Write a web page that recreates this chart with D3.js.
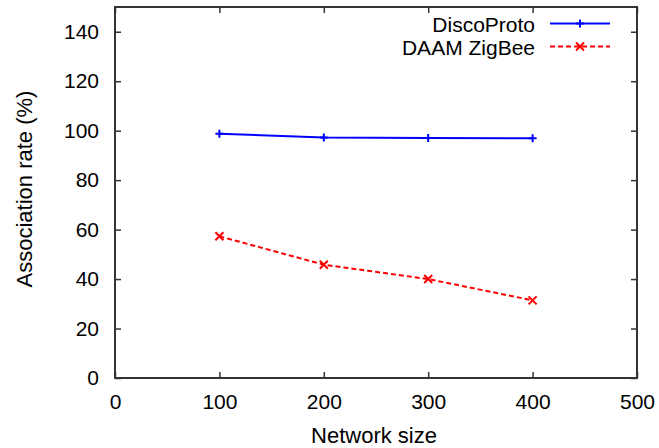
<!DOCTYPE html>
<html>
<head>
<meta charset="utf-8">
<script src="https://cdn.jsdelivr.net/npm/d3@7"></script>
<style>
  body { margin: 0; background: #fff; }
  text { font-family: "Liberation Sans", Arial, sans-serif; fill: #000; }
</style>
</head>
<body>
<script>
// Network sizes and association rates
var sizes = [100, 200, 300, 400];
var discoProto = [98.8, 97.2, 97.0, 96.9];
var daamZigbee = [57.3, 45.8, 40.0, 31.4];
var xTicks = [0, 100, 200, 300, 400, 500];
var yTicks = [0, 20, 40, 60, 80, 100, 120, 140];

var margin = { top: 7, right: 22, bottom: 70, left: 115 },
  width = 659 - margin.left - margin.right,
  height = 448 - margin.top - margin.bottom;

var x = d3.scaleLinear().domain([0, 500]).range([0, width]);
var y = d3.scaleLinear().domain([0, 150]).range([height, 0]);

var svg = d3.select("body").append("svg")
  .attr("width", 659)
  .attr("height", 448);

var chart = svg.append("g")
  .attr("transform", "translate(" + margin.left + "," + margin.top + ")");

// Axes: ticks point inward, mirrored on top and right
var tick = 6;
chart.append("g")
  .attr("transform", "translate(0," + height + ")")
  .call(d3.axisBottom(x).tickValues(xTicks).tickSize(-tick).tickPadding(16))
  .call(function(g) { g.select(".domain").remove(); })
  .selectAll("text").attr("font-size", 21).attr("dy", "0.71em");

chart.append("g")
  .call(d3.axisLeft(y).tickValues(yTicks).tickSize(-tick).tickPadding(16))
  .call(function(g) { g.select(".domain").remove(); })
  .selectAll("text").attr("font-size", 21);

chart.append("g")
  .call(d3.axisTop(x).tickValues(xTicks).tickSize(-tick).tickFormat(""))
  .call(function(g) { g.select(".domain").remove(); });

chart.append("g")
  .attr("transform", "translate(" + width + ",0)")
  .call(d3.axisRight(y).tickValues(yTicks).tickSize(-tick).tickFormat(""))
  .call(function(g) { g.select(".domain").remove(); });

chart.selectAll(".tick line").attr("stroke", "#333").attr("stroke-width", 1.5);

// Frame
chart.append("rect")
  .attr("width", width)
  .attr("height", height)
  .attr("fill", "none")
  .attr("stroke", "#333")
  .attr("stroke-width", 2);

// Axis labels
svg.append("text")
  .attr("x", 374)
  .attr("y", 443)
  .attr("text-anchor", "middle")
  .attr("font-size", 22)
  .text("Network size");

svg.append("text")
  .attr("transform", "translate(32," + 189 + ") rotate(-90)")
  .attr("text-anchor", "middle")
  .attr("font-size", 22)
  .text("Association rate (%)");

// Series
var series = [
  { name: "DiscoProto", values: discoProto, color: "#0000ff", dash: null, mark: "plus" },
  { name: "DAAM ZigBee", values: daamZigbee, color: "#ff0000", dash: "5,3", mark: "cross" }
];

var line = d3.line()
  .x(function(d) { return x(d[0]); })
  .y(function(d) { return y(d[1]); });

function marker(g, cx, cy, s) {
  var r = 4;
  if (s.mark == "plus") {
    g.append("path")
      .attr("d", "M" + (cx - r) + "," + cy + "H" + (cx + r) + "M" + cx + "," + (cy - r) + "V" + (cy + r))
      .attr("stroke", s.color).attr("stroke-width", 2);
  } else {
    g.append("path")
      .attr("d", "M" + (cx - r) + "," + (cy - r) + "L" + (cx + r) + "," + (cy + r) +
        "M" + (cx - r) + "," + (cy + r) + "L" + (cx + r) + "," + (cy - r))
      .attr("stroke", s.color).attr("stroke-width", 2);
  }
}

series.forEach(function(s, i) {
  var pts = sizes.map(function(v, j) { return [v, s.values[j]]; });
  chart.append("path")
    .attr("d", line(pts))
    .attr("fill", "none")
    .attr("stroke", s.color)
    .attr("stroke-width", 2)
    .attr("stroke-dasharray", s.dash);
  pts.forEach(function(p) { marker(chart, x(p[0]), y(p[1]), s); });

  // Legend
  var ly = 23.5 + i * 23;
  svg.append("text")
    .attr("x", 535)
    .attr("y", ly + 8)
    .attr("text-anchor", "end")
    .attr("font-size", 21)
    .text(s.name);
  svg.append("line")
    .attr("x1", 550).attr("x2", 610)
    .attr("y1", ly).attr("y2", ly)
    .attr("stroke", s.color)
    .attr("stroke-width", 2)
    .attr("stroke-dasharray", s.dash);
  marker(svg, 580, ly, s);
});
</script>
</body>
</html>
